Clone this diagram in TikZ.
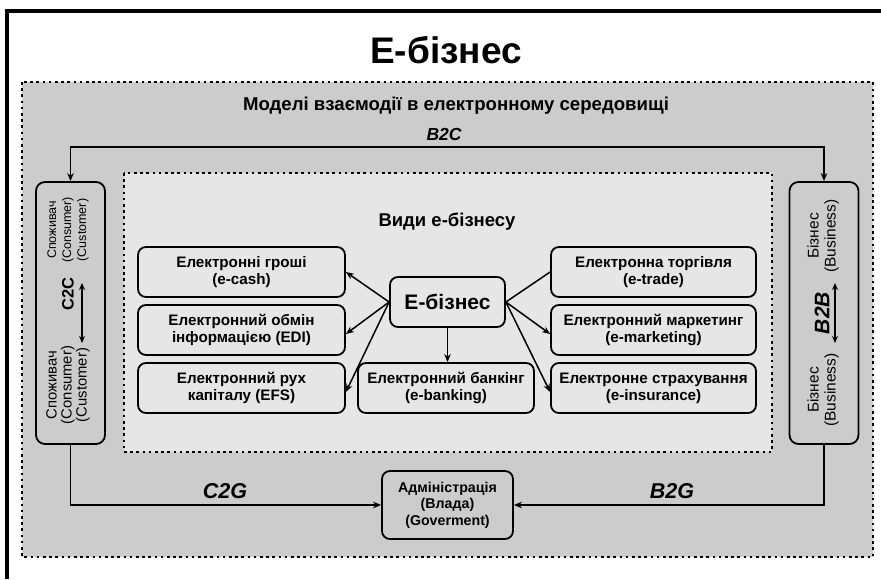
\documentclass[tikz,border=0pt]{standalone}
\usepackage{fontspec}
\setmainfont{Liberation Sans}
\usetikzlibrary{arrows.meta}
\definecolor{outerfill}{RGB}{204,204,204}
\definecolor{innerfill}{RGB}{230,230,230}
\begin{document}
\begin{tikzpicture}[x=1pt,y=-1pt,
  kind/.style={draw, line width=1.8pt, rounded corners=8pt, fill=innerfill, align=center,
    font=\fontsize{15.2}{17}\bfseries\selectfont, minimum height=50pt, inner sep=0pt},
  sidebox/.style={draw, line width=1.8pt, rounded corners=9pt, fill=outerfill, minimum width=69pt, minimum height=262pt, inner sep=0pt},
  sidetext/.style={rotate=90, align=center, inner sep=0pt},
  dotbox/.style={line width=2.6pt, dash pattern=on 2.6pt off 3.6pt},
  conn/.style={line width=1.5pt},
  arr/.style={conn, -{Stealth[length=8pt,width=6.5pt]}},
  darr/.style={conn, {Stealth[length=7pt,width=6pt]}-{Stealth[length=7pt,width=6pt]}},
  rel/.style={font=\fontsize{21.5}{24}\bfseries\itshape\selectfont, inner sep=0pt},
]
\useasboundingbox (0,0) rectangle (881,579);
\fill[white] (0,0) rectangle (881,579);
% outer frame (cropped)
\draw[line width=3.5pt, line join=miter] (7,579) -- (7,11) -- (881,11);
% title
\node[font=\fontsize{37}{40}\bfseries\selectfont, inner sep=0pt] (title) at (446,50) {Е-бізнес};
% dotted regions
\draw[dotbox, fill=outerfill] (22,82) rectangle (873,557);
\draw[dotbox, fill=innerfill] (124,173) rectangle (772,452);
\node[font=\fontsize{18.6}{21}\bfseries\selectfont, inner sep=0pt] (models) at (456,106) {Моделі взаємодії в електронному середовищі};
\node[rel, font=\fontsize{17.5}{20}\bfseries\itshape\selectfont] (b2c) at (444,134) {B2C};
\node[font=\fontsize{18.5}{21}\bfseries\selectfont, inner sep=0pt] (kinds) at (447,222) {Види е-бізнесу};
% side boxes
\node[sidebox] (L) at (70.5,313) {};
\node[sidebox] (R) at (824,313) {};
\node[sidetext, font=\fontsize{12.5}{15}\selectfont] (ltop) at (68,230) {Споживач\\(Consumer)\\(Customer)};
\node[sidetext, font=\fontsize{14.8}{15}\selectfont] (lbot) at (68,385) {Споживач\\(Consumer)\\(Customer)};
\node[rel, rotate=90, font=\fontsize{16.5}{20}\bfseries\selectfont] (c2c) at (68,294) {C2C};
\coordinate (c2ca) at (82,283);
\coordinate (c2cb) at (82,343);
\draw[darr] (c2ca) -- (c2cb);
\node[sidetext, font=\fontsize{15.5}{17}\selectfont] (rtop) at (823,236) {Бізнес\\(Business)};
\node[sidetext, font=\fontsize{15.5}{17}\selectfont] (rbot) at (823,390) {Бізнес\\(Business)};
\node[rel, rotate=90, font=\fontsize{21}{22}\bfseries\itshape\selectfont] (b2b) at (822,313) {B2B};
\coordinate (b2ba) at (835,283);
\coordinate (b2bb) at (835,343);
\draw[darr] (b2ba) -- (b2bb);
% B2C connector
\coordinate (b2cy) at (447,147);
\draw[conn, {Stealth[length=8pt,width=6.5pt]}-{Stealth[length=8pt,width=6.5pt]}] (L.north) -- (L.north |- b2cy) -- (R.north |- b2cy) -- (R.north);
% kinds of e-business
\node[kind, minimum width=207pt] (cash) at (241.5,272) {Електронні гроші\\(e-cash)};
\node[kind, minimum width=207pt] (edi) at (241.5,330) {Електронний обмін\\інформацією (EDI)};
\node[kind, minimum width=207pt] (efs) at (241.5,388) {Електронний рух\\капіталу (EFS)};
\node[kind, minimum width=205pt] (trade) at (653.5,272) {Електронна торгівля\\(e-trade)};
\node[kind, minimum width=205pt] (mkt) at (653.5,330) {Електронний маркетинг\\(e-marketing)};
\node[kind, minimum width=205pt] (ins) at (653.5,388) {Електронне страхування\\(e-insurance)};
\node[kind, minimum width=176pt] (bank) at (446,388) {Електронний банкінг\\(e-banking)};
\node[kind, minimum width=115pt, font=\fontsize{21}{24}\bfseries\selectfont] (E) at (447.5,302) {Е-бізнес};
\draw[arr] (E.west) -- (cash.east);
\draw[arr] (E.west) -- ([yshift=-4pt]edi.east);
\draw[arr] (E.west) -- ([yshift=-4pt]efs.east);
\draw[conn] (E.east) -- (trade.west);
\draw[arr] (E.east) -- ([yshift=-4pt]mkt.west);
\draw[arr] (E.east) -- ([yshift=-4pt]ins.west);
\draw[arr] (E.south) -- (E.south |- bank.north);
% government
\node[draw, line width=1.8pt, rounded corners=8pt, fill=outerfill, minimum width=131pt, minimum height=68pt, align=center, inner sep=0pt, font=\fontsize{14.2}{16.5}\bfseries\selectfont] (A) at (447.5,505) {Адміністрація\\(Влада)\\(Goverment)};
\draw[arr] (L.south) |- (A.west);
\draw[arr] (R.south) |- (A.east);
\node[rel] (c2g) at (225,491) {C2G};
\node[rel] (b2g) at (672,491) {B2G};
\end{tikzpicture}
\end{document}
